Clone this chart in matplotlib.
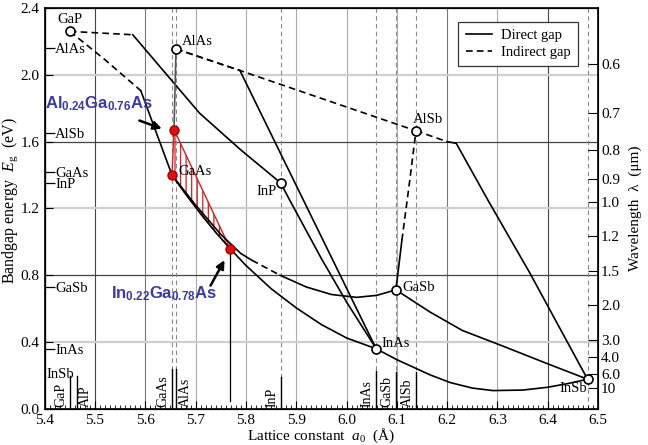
import matplotlib.pyplot as plt
from matplotlib.patches import Polygon
from matplotlib.lines import Line2D
from matplotlib.ticker import MultipleLocator

plt.rcParams['font.family'] = ['Liberation Serif', 'DejaVu Serif']
plt.rcParams['mathtext.fontset'] = 'custom'
plt.rcParams['mathtext.rm'] = 'Liberation Serif'
plt.rcParams['mathtext.it'] = 'Liberation Serif:italic'
plt.rcParams['mathtext.bf'] = 'Liberation Sans:bold'
plt.rcParams['hatch.linewidth'] = 0.9
plt.rcParams['hatch.color'] = '#cc2222'

# binary compounds: lattice constant (A) and gap (eV)
bin_names = ['GaP', 'AlAs', 'InP', 'AlSb', 'GaSb', 'InAs', 'InSb']
bin_a = [5.450, 5.661, 5.869, 6.138, 6.098, 6.059, 6.479]
bin_eg = [2.26, 2.155, 1.353, 1.665, 0.713, 0.36, 0.178]

# vertical marker lines at the lattice constants
mat_names = ['GaP', 'AlP', 'GaAs', 'AlAs', 'InP', 'InAs', 'GaSb', 'AlSb']
mat_a = [5.4505, 5.4635, 5.653, 5.661, 5.869, 6.059, 6.098, 6.138]
mat_top = [0.20, 0.20, 0.24, 0.24, 0.19, 0.23, 0.22, 0.22]
mat_side = [-1, 1, -1, 1, -1, -1, -1, -1]
dash_a = [5.653, 5.661, 5.869, 6.059, 6.098, 6.138, 6.479]

# gap labels on the left axis
left_e = [2.16, 1.65, 1.42, 1.35, 0.73, 0.36]
left_lab = ['AlAs', 'AlSb', 'GaAs', 'InP', 'GaSb', 'InAs']

# wavelength ticks (um)
wl_ticks = [0.6, 0.7, 0.8, 0.9, 1.0, 1.2, 1.5, 2.0, 3.0, 4.0, 6.0, 10]
wl_labels = ['0.6', '0.7', '0.8', '0.9', '1.0', '1.2', '1.5', '2.0',
             '3.0', '4.0', '6.0', '10']

# ternary curves: (a, Eg)
gainp_ind = ([5.450, 5.575], [2.26, 2.24])
gainp_dir = ([5.575, 5.64, 5.708, 5.79, 5.869], [2.24, 2.01, 1.77, 1.55, 1.353])
gaasp_ind = ([5.450, 5.520, 5.591], [2.26, 2.09, 1.905])
gaasp_dir = ([5.591, 5.653], [1.905, 1.40])
alasal_dir = ([5.661, 5.657], [2.155, 1.672])
alassb_ind = ([5.661, 5.788, 6.138], [2.155, 2.026, 1.665])
alinas_ind = ([5.661, 5.788], [2.155, 2.026])
alinas_dir = ([5.788, 6.059], [2.026, 0.36])
alinsb_ind = ([6.138, 6.200], [1.665, 1.60])
alinsb_dir = ([6.200, 6.218, 6.281, 6.365, 6.479], [1.60, 1.59, 1.25, 0.81, 0.178])
algasb_dir = ([6.098, 6.104, 6.110], [0.713, 0.86, 1.01])
algasb_ind = ([6.110, 6.124, 6.138], [1.01, 1.33, 1.665])
inasp_dir = ([5.869, 5.887, 5.95, 6.00, 6.059], [1.353, 1.25, 0.90, 0.64, 0.36])
ingaas_dir = ([5.653, 5.68, 5.71, 5.74, 5.769, 5.80, 5.85, 5.90, 5.95, 6.00, 6.059],
              [1.40, 1.287, 1.168, 1.057, 0.958, 0.859, 0.72, 0.605, 0.505, 0.425, 0.36])
gaassb_dir1 = ([5.653, 5.70, 5.75, 5.79, 5.812], [1.40, 1.22, 1.045, 0.93, 0.89])
gaassb_ind = ([5.812, 5.84, 5.868], [0.89, 0.845, 0.80])
gaassb_dir2 = ([5.868, 5.92, 5.97, 6.02, 6.06, 6.098], [0.80, 0.73, 0.685, 0.668, 0.68, 0.713])
inassb_dir = ([6.059, 6.10, 6.166, 6.206, 6.25, 6.291, 6.35, 6.40, 6.44, 6.479],
              [0.36, 0.295, 0.204, 0.158, 0.125, 0.11, 0.113, 0.13, 0.152, 0.178])
gainsb_dir = ([6.098, 6.166, 6.23, 6.305, 6.40, 6.479], [0.713, 0.58, 0.47, 0.383, 0.27, 0.178])

direct = [gainp_dir, gaasp_dir, alinas_dir, alinsb_dir, algasb_dir, inasp_dir,
          ingaas_dir, gaassb_dir1, gaassb_dir2, inassb_dir, gainsb_dir]
indirect = [gainp_ind, gaasp_ind, alassb_ind, alinas_ind, alinsb_ind,
            algasb_ind, gaassb_ind]

# highlighted alloys
al_pt = (5.657, 1.672)
gaas_pt = (5.653, 1.40)
in_pt = (5.769, 0.958)

fig = plt.figure(figsize=(6.48, 4.45), dpi=100)
ax = fig.add_axes([0.069, 0.081, 0.854, 0.901])
ax.set_xlim(5.4, 6.5)
ax.set_ylim(0, 2.4)

# grid
for v in [5.5, 5.6, 5.7, 5.8, 5.9, 6.0, 6.1, 6.2, 6.3, 6.4]:
    c = '#444444' if v in (5.5, 6.4) else ('#777777' if v in (5.6, 6.2) else '#aaaaaa')
    ax.axvline(v, color=c, lw=0.8, zorder=0)
for v in [0.4, 0.8, 1.2, 1.6, 2.0]:
    if v in (0.8, 1.6):
        ax.axhline(v, color='#444444', lw=0.9, zorder=0)
    else:
        ax.axhline(v, color='#cfcfcf', lw=1.6, zorder=0)
for v in dash_a:
    ax.axvline(v, color='#8a8a8a', lw=0.8, ls=(0, (4, 3)), zorder=0.5)

# short marker lines and labels at the bottom
for name, a, top, side in zip(mat_names, mat_a, mat_top, mat_side):
    ax.plot([a, a], [0, top], color='k', lw=1.0, zorder=1)
    ax.annotate(name, (a, 0.01), xytext=(side * 6.5, 0), textcoords='offset points',
                rotation=90, ha='center', va='bottom', fontsize=10)
ax.text(5.404, 0.205, 'InSb', ha='left', va='center', fontsize=10.5)

# hatched region
poly_a = [al_pt[0]] + [a for a in ingaas_dir[0] if a <= in_pt[0]]
poly_e = [al_pt[1]] + [e for a, e in zip(*ingaas_dir) if a <= in_pt[0]]
ax.add_patch(Polygon(list(zip(poly_a, poly_e)), closed=True, fill=False,
                     hatch='|||', edgecolor='#cc2222', lw=1.0, zorder=2))

ls_ind = (0, (4, 2.5))
for a, e in direct:
    ax.plot(a, e, color='k', lw=1.2, zorder=3)
for a, e in indirect:
    ax.plot(a, e, color='k', lw=1.2, ls=ls_ind, zorder=3)
ax.plot(*alasal_dir, color='#555555', lw=1.2, zorder=3)
ax.plot([in_pt[0], in_pt[0]], [in_pt[1], 0.05], color='k', lw=0.9, zorder=3)

ax.plot(bin_a, bin_eg, 'o', ms=6.5, mfc='white', mec='k', mew=1.2, zorder=5)
ax.plot([al_pt[0], gaas_pt[0], in_pt[0]], [al_pt[1], gaas_pt[1], in_pt[1]], 'o',
        ms=6.5, color='#dd1111', mec='#aa0000', zorder=6)

# labels next to the points
pt_labels = {'GaP': (5.451, 2.33), 'AlAs': (5.703, 2.20), 'AlSb': (6.161, 1.73),
             'InP': (5.841, 1.30), 'GaAs': (5.699, 1.42), 'GaSb': (6.143, 0.73),
             'InAs': (6.098, 0.39), 'InSb': (6.450, 0.12)}
for k, (x, y) in pt_labels.items():
    ax.text(x, y, k, ha='center', va='center', fontsize=10.5, zorder=4)

# alloy annotations
blue = '#3b3ba0'
ax.text(5.401, 1.83, r'$\mathbf{Al_{0.24}Ga_{0.76}As}$', color=blue, fontsize=12,
        ha='left', va='center', zorder=7)
ax.text(5.532, 0.69, r'$\mathbf{In_{0.22}Ga_{0.78}As}$', color=blue, fontsize=12,
        ha='left', va='center', zorder=7)
ax.annotate('', xy=(5.638, 1.672), xytext=(5.583, 1.732),
            arrowprops=dict(arrowstyle='-|>', color='k', lw=1.8, mutation_scale=12))
ax.annotate('', xy=(5.760, 0.905), xytext=(5.727, 0.724),
            arrowprops=dict(arrowstyle='-|>', color='k', lw=1.8, mutation_scale=12))

leg = ax.legend(handles=[Line2D([], [], color='k', lw=1.2, label='Direct gap'),
                         Line2D([], [], color='k', lw=1.2, ls=ls_ind, label='Indirect gap')],
                loc='upper right', bbox_to_anchor=(0.963, 0.966), borderaxespad=0,
                fancybox=False, edgecolor='#333333', framealpha=1, fontsize=10.5,
                handlelength=1.8, handletextpad=0.6, borderpad=0.5, labelspacing=0.25)
leg.get_frame().set_linewidth(0.9)

# main ticks
ax.set_xticks([5.4, 5.5, 5.6, 5.7, 5.8, 5.9, 6.0, 6.1, 6.2, 6.3, 6.4, 6.5])
ax.xaxis.set_minor_locator(MultipleLocator(0.01))
ax.set_yticks([0.0, 0.4, 0.8, 1.2, 1.6, 2.0, 2.4])
ax.yaxis.set_major_formatter(plt.FormatStrFormatter('%.1f'))
ax.tick_params(which='major', direction='in', length=6, labelsize=11, top=False, right=False)
ax.tick_params(which='minor', direction='in', length=3, top=False, right=False, left=False)
for s in ax.spines.values():
    s.set_linewidth(1.2)
ax.set_xlabel(r'Lattice constant  $a_0$  (Å)', fontsize=11, labelpad=0)
ax.set_ylabel(r'Bandgap energy  $E_{\rm g}$  (eV)', fontsize=11.5, labelpad=4)
ax.yaxis.set_label_coords(-0.045, 0.52)

# inner labels at left
axl = ax.twinx()
axl.set_ylim(ax.get_ylim())
axl.spines['right'].set_position(('axes', 0.0))
axl.set_yticks(left_e)
axl.set_yticklabels(left_lab)
axl.tick_params(axis='y', direction='out', length=7, width=0.9, pad=0.5, labelsize=10.5)

# wavelength axis
axr = ax.twinx()
axr.set_ylim(ax.get_ylim())
axr.set_yticks([1.24 / w for w in wl_ticks])
axr.set_yticklabels(wl_labels)
axr.tick_params(axis='y', direction='in', length=7, labelsize=11, pad=2)
axr.set_ylabel(r'Wavelength  λ  (μm)', fontsize=11, labelpad=6)

fig.savefig('out.png', dpi=100)
